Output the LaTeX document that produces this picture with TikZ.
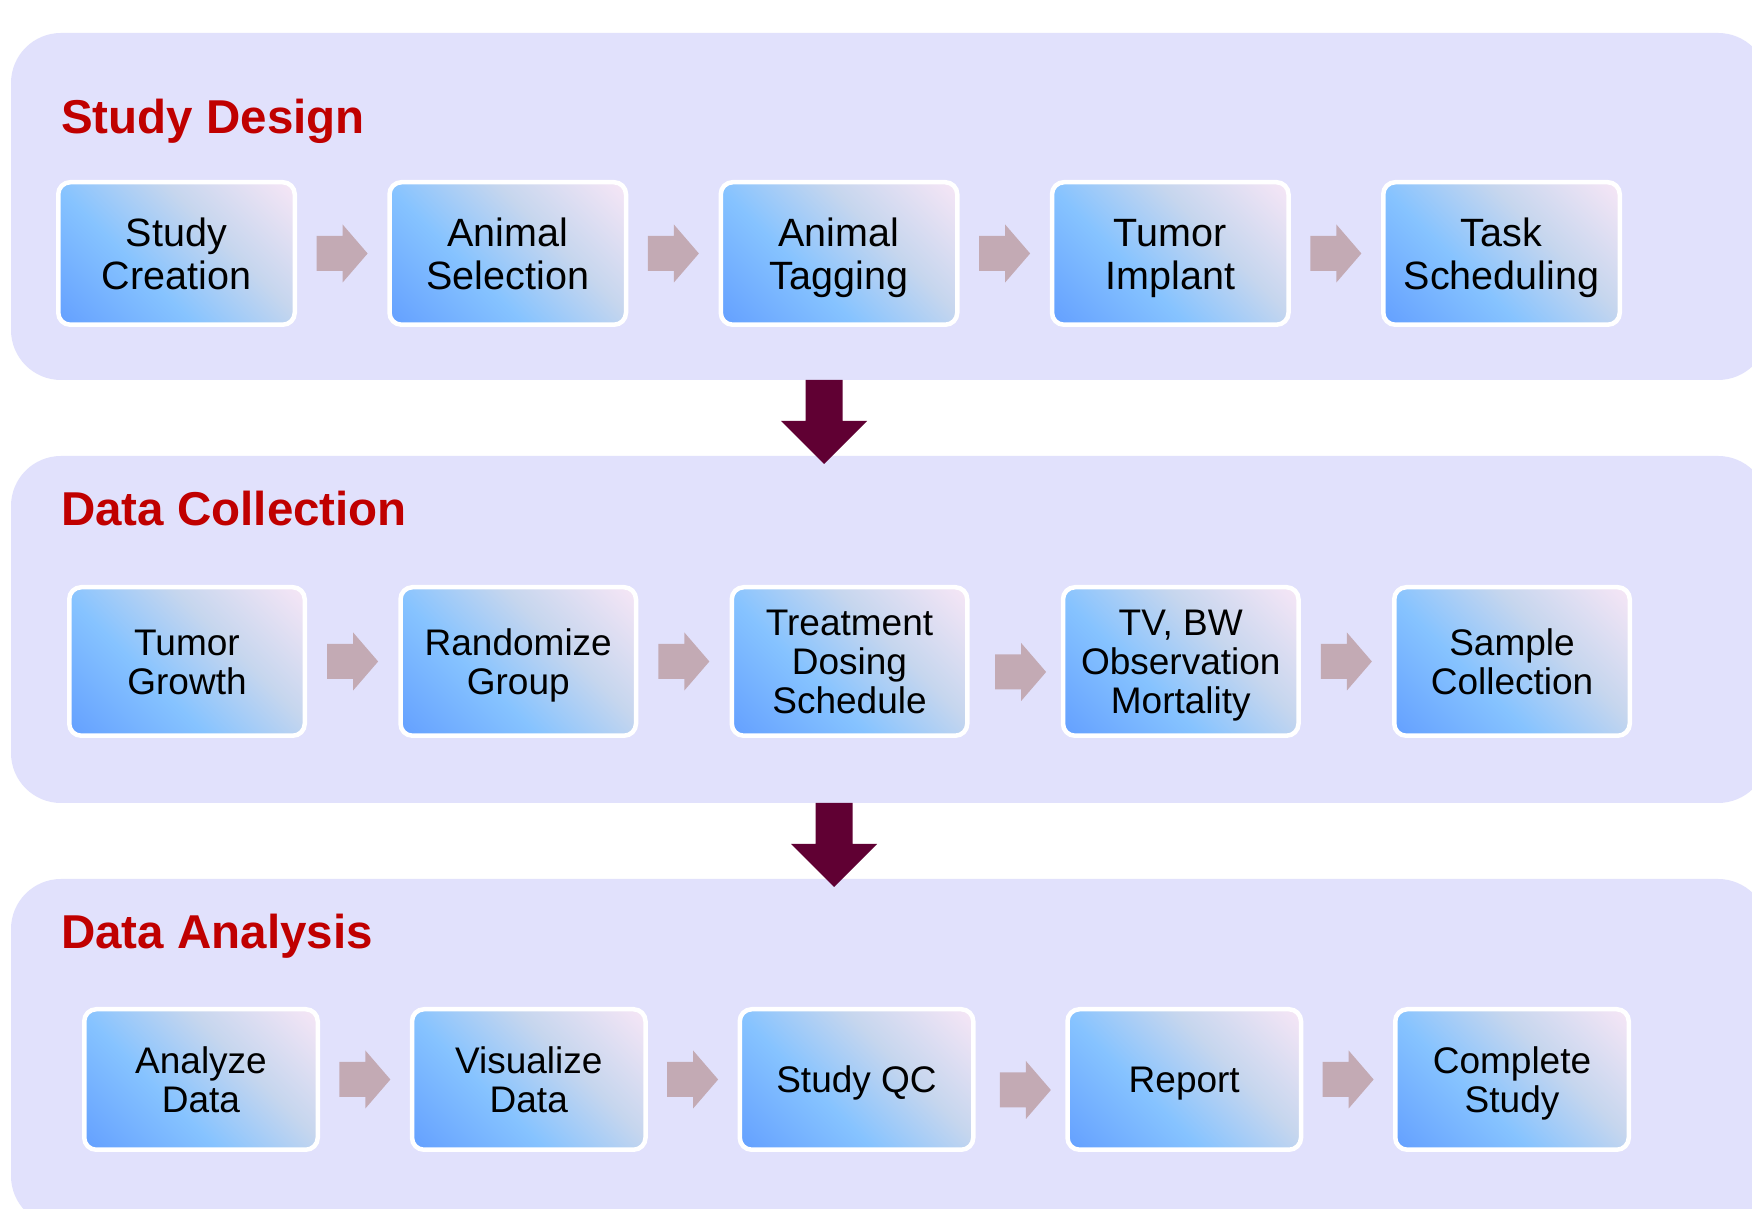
\documentclass[tikz,border=0pt]{standalone}
\usepackage{fontspec}
\setmainfont{Liberation Sans}
\usetikzlibrary{calc}

\definecolor{panelbg}{HTML}{E1E1FC}
\definecolor{titlered}{HTML}{C00000}
\definecolor{arrowgray}{HTML}{C3AAB4}
\definecolor{arrowdark}{HTML}{600033}
\definecolor{bxdark}{HTML}{64A0FF}
\definecolor{bxmid}{HTML}{86C3FF}
\definecolor{bxgray}{HTML}{C6D6EE}
\definecolor{bxpink}{HTML}{F6E6F6}

\pgfdeclarehorizontalshading{boxshade}{100bp}{color(0bp)=(bxdark); color(15bp)=(bxdark); color(40bp)=(bxmid); color(61bp)=(bxgray); color(85bp)=(bxpink); color(100bp)=(bxpink)}

\tikzset{
  panel/.style={fill=panelbg, rounded corners=50pt, minimum width=1757pt, minimum height=347pt, inner sep=0pt, outer sep=0pt},
  paneltitle/.style={anchor=base west, inner sep=0pt, text=titlered, font=\fontsize{47.5}{52}\selectfont\bfseries},
  stepbox/.style={draw=white, line width=4.5pt, rounded corners=12pt, shade, shading=boxshade, shading angle=45, inner sep=0pt, align=center, text depth=0pt},
  rowone/.style={stepbox, minimum width=236.5pt, minimum height=142.5pt, font=\fontsize{39.5}{43}\selectfont, text height=71.3pt},
  rowtwo/.style={stepbox, minimum width=235.5pt, minimum height=148.5pt, font=\fontsize{37}{39}\selectfont, text height=65.5pt},
  rowthree/.style={stepbox, minimum width=233.5pt, minimum height=140.5pt, font=\fontsize{37}{39}\selectfont, text height=65.5pt},
  threelines/.style={text height=104.5pt},
  oneline/.style={text height=26.5pt},
  flow/.pic={\fill[arrowgray] (-25.5,-17.5) -- (0.5,-17.5) -- (0.5,-29) -- (25.5,0) -- (0.5,29) -- (0.5,17.5) -- (-25.5,17.5) -- cycle;},
  drop/.pic={\fill[arrowdark] (-18.5,0) -- (-18.5,-41) -- (-43,-41) -- (0,-84) -- (43,-41) -- (18.5,-41) -- (18.5,0) -- cycle;}
}

\begin{document}
\begin{tikzpicture}[x=1pt, y=1pt]
    \useasboundingbox (0,0) rectangle (1752,1209);
    \clip (0,0) rectangle (1752,1209);
    \fill[white] (0,0) rectangle (1752,1209);

    % panels
    \node[panel] (sd) at (889.5,1002.5) {};
    \node[panel] (dc) at (889.5,579.5) {};
    \node[panel] (da) at (889.5,156.5) {};

    \node[paneltitle] (sdtitle) at (61,1075) {Study Design};
    \node[paneltitle] (dctitle) at (61,683) {Data Collection};
    \node[paneltitle] (datitle) at (61,260) {Data Analysis};

    % arrows between the panels
    \coordinate (drop1) at ([xshift=-65.5pt]sd.south);
    \coordinate (drop2) at ([xshift=-55.5pt]dc.south);
    \pic at (drop1) {drop};
    \pic at (drop2) {drop};

    % study design
    \node[rowone] (creation) at (176.5,955.5) {Study\\Creation};
    \node[rowone] (selection) at (507.75,955.5) {Animal\\Selection};
    \node[rowone] (tagging) at (839,955.5) {Animal\\Tagging};
    \node[rowone] (implant) at (1170.25,955.5) {Tumor\\Implant};
    \node[rowone] (scheduling) at (1501.5,955.5) {Task\\Scheduling};

    % data collection
    \node[rowtwo] (growth) at (187,547.5) {Tumor\\Growth};
    \node[rowtwo] (randomize) at (518.25,547.5) {Randomize\\Group};
    \node[rowtwo, threelines] (dosing) at (849.5,547.5) {Treatment\\Dosing\\Schedule};
    \node[rowtwo, threelines] (observation) at (1180.75,547.5) {TV, BW\\Observation\\Mortality};
    \node[rowtwo] (sample) at (1512,547.5) {Sample\\Collection};

    % data analysis
    \node[rowthree] (analyze) at (201,129.5) {Analyze\\Data};
    \node[rowthree] (visualize) at (528.75,129.5) {Visualize\\Data};
    \node[rowthree, oneline] (qc) at (856.5,129.5) {Study QC};
    \node[rowthree, oneline] (report) at (1184.25,129.5) {Report};
    \node[rowthree] (complete) at (1512,129.5) {Complete\\Study};

    \foreach \a/\b in {creation/selection, selection/tagging, tagging/implant, implant/scheduling,
                       growth/randomize, randomize/dosing, observation/sample,
                       analyze/visualize, visualize/qc, report/complete}
        \pic at ($(\a.east)!0.5!(\b.west)$) {flow};
    \pic at ($(dosing.east)!0.5!(observation.west) + (5.5,-10.5)$) {flow};
    \pic at ($(qc.east)!0.5!(report.west) + (5,-10.5)$) {flow};
\end{tikzpicture}
\end{document}
